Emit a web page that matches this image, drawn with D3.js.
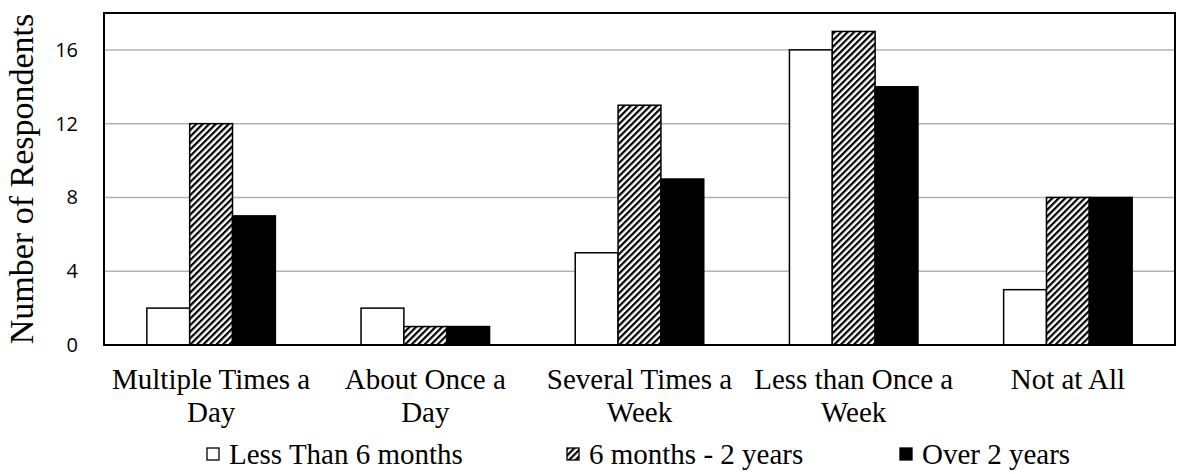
<!DOCTYPE html>
<html>
<head>
<meta charset="utf-8">
<script src="https://cdn.jsdelivr.net/npm/d3@7"></script>
<style>
  body { margin: 0; background: #fff; }
  svg { display: block; }
</style>
</head>
<body>
<svg id="chart"></svg>
<script>
const categories = [
    ["Multiple Times a", "Day"],
    ["About Once a", "Day"],
    ["Several Times a", "Week"],
    ["Less than Once a", "Week"],
    ["Not at All"]
];
const seriesNames = ["Less Than 6 months", "6 months - 2 years", "Over 2 years"];
const lessThan6 = [2, 2, 5, 16, 3];
const sixTo2 = [12, 1, 13, 17, 8];
const over2 = [7, 1, 9, 14, 8];
const yTicks = [0, 4, 8, 12, 16];

const series = [lessThan6, sixTo2, over2];

const W = 1185, H = 474;
const margin = { top: 13, right: 10, bottom: 129, left: 104 };
const width = W - margin.left - margin.right,
    height = H - margin.top - margin.bottom;

const serif = "'Liberation Serif', 'Times New Roman', serif";

const svg = d3.select("#chart").attr("width", W).attr("height", H);

const defs = svg.append("defs");
const pat = defs.append("pattern")
    .attr("id", "hatch")
    .attr("patternUnits", "userSpaceOnUse")
    .attr("width", 4.6).attr("height", 4.6)
    .attr("patternTransform", "rotate(45)");
pat.append("rect").attr("width", 4.6).attr("height", 4.6).attr("fill", "#fff");
pat.append("rect").attr("x", 0).attr("width", 2.2).attr("height", 4.6).attr("fill", "#000");

const fills = ["#fff", "url(#hatch)", "#000"];

const g = svg.append("g").attr("transform", "translate(" + margin.left + "," + margin.top + ")");

const x0 = d3.scaleBand().domain(d3.range(categories.length)).range([0, width]);
const x1 = d3.scaleBand().domain(d3.range(series.length))
    .range([0, x0.bandwidth()]).paddingOuter(1.0);
const y = d3.scaleLinear().domain([0, 18]).range([height, 0]);

// gridlines
g.selectAll(".grid").data(yTicks.filter(d => d > 0)).enter().append("line")
    .attr("x1", 0).attr("x2", width)
    .attr("y1", d => y(d)).attr("y2", d => y(d))
    .attr("stroke", "#b3b3b3").attr("stroke-width", 1.5);

// y tick labels
g.selectAll(".ytick").data(yTicks).enter().append("text")
    .attr("x", -26).attr("y", d => y(d)).attr("dy", "0.35em")
    .attr("text-anchor", "end")
    .style("font-family", "'Open Sans', 'Liberation Sans', sans-serif")
    .style("font-size", "20px")
    .text(d => d);

// bars
series.forEach(function (vals, si) {
    g.selectAll(".bar" + si).data(vals).enter().append("rect")
        .attr("x", (d, i) => x0(i) + x1(si))
        .attr("y", d => y(d))
        .attr("width", x1.bandwidth())
        .attr("height", d => height - y(d))
        .attr("fill", fills[si])
        .attr("stroke", "#000").attr("stroke-width", 1.5);
});

// plot frame
g.append("rect").attr("width", width).attr("height", height)
    .attr("fill", "none").attr("stroke", "#000").attr("stroke-width", 2);

// category labels
const cat = g.selectAll(".cat").data(categories).enter().append("text")
    .attr("text-anchor", "middle")
    .attr("transform", (d, i) => "translate(" + (x0(i) + x0.bandwidth() / 2) + "," + (height + 44) + ")")
    .style("font-family", serif)
    .style("font-size", "29px");
cat.selectAll("tspan").data(d => d).enter().append("tspan")
    .attr("x", 0).attr("dy", (d, i) => i ? 33 : 0)
    .text(d => d);

// y title
svg.append("text")
    .attr("transform", "translate(33," + (margin.top + height / 2) + ") rotate(-90)")
    .attr("text-anchor", "middle")
    .style("font-family", serif)
    .style("font-size", "34px")
    .text("Number of Respondents");

// legend
const legendX = [207, 567, 900];
const lg = svg.selectAll(".legend").data(seriesNames).enter().append("g")
    .attr("transform", (d, i) => "translate(" + legendX[i] + ",454)");
lg.append("rect").attr("x", 0).attr("y", -6).attr("width", 12).attr("height", 12)
    .attr("fill", (d, i) => fills[i]).attr("stroke", "#000").attr("stroke-width", 1.3);
lg.append("text").attr("x", 22).attr("y", 0).attr("dy", "0.35em")
    .style("font-family", serif)
    .style("font-size", "29px")
    .text(d => d);
</script>
</body>
</html>
